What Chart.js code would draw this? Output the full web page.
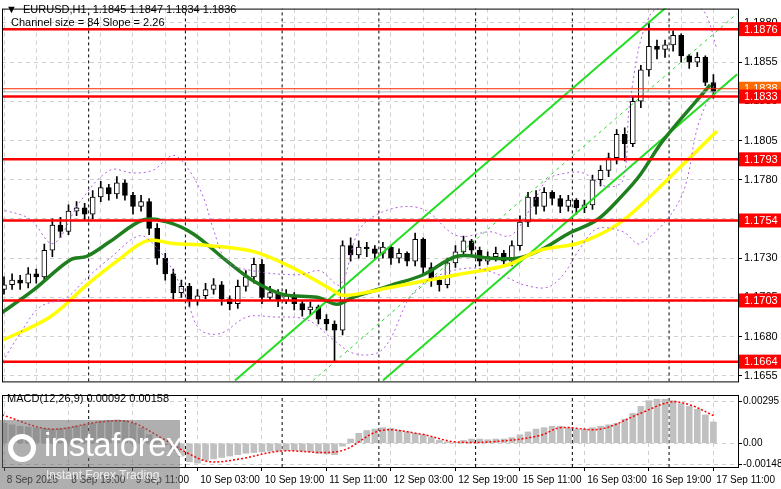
<!DOCTYPE html>
<html><head><meta charset="utf-8">
<script src="https://cdn.jsdelivr.net/npm/chart.js@4"></script>
<style>
html,body{margin:0;padding:0;background:#fff;width:781px;height:489px;overflow:hidden;font-family:"Liberation Sans",sans-serif}
#p{position:absolute;left:0;top:0;width:781px;height:390px}
#m{position:absolute;left:0;top:388px;width:781px;height:101px}
canvas{display:block}
#wm{position:absolute;left:0;top:420px;width:180px;height:69px;background:rgba(110,110,110,0.55);color:#fff}
#wm .a{position:absolute;left:44px;top:6px;font-size:33px;font-family:"Liberation Sans",sans-serif;letter-spacing:-0.5px}
#wm .b{position:absolute;left:46px;top:48px;font-size:12px;color:#eee}
#wm .g{position:absolute;left:8px;top:14px;width:28px;height:28px;border:5px solid #fff;border-radius:50%;box-sizing:border-box}
</style></head><body>
<div id="p"><canvas id="cp" width="781" height="390" style="width:781px;height:390px"></canvas></div>
<div id="m"><canvas id="cm" width="781" height="101" style="width:781px;height:101px"></canvas></div>
<div id="wm"><div class="g"></div><div class="a">instaforex</div><div class="b">Instant Forex Trading</div></div>
<script>
// ---- data (hour index from 8 Sep 03:00, 2-hour candles) ----
const hours = [];
for (let h = 0; h <= 176; h += 2) hours.push(h);
const closes = [1.1713,1.1716,1.1714,1.1720,1.1718,1.1735,1.1751,1.1747,1.1760,1.1762,1.1758,1.1769,1.1775,1.1771,1.1778,1.1770,1.1763,1.1766,1.1749,1.1730,1.1720,1.1708,1.1712,1.1703,1.1706,1.1710,1.1713,1.1704,1.1701,1.1712,1.1718,1.1726,1.1705,1.1708,1.1703,1.1706,1.1701,1.1697,1.1699,1.1691,1.1688,1.1684,1.1738,1.1732,1.1737,1.1736,1.1733,1.1737,1.1730,1.1733,1.1728,1.1742,1.1724,1.1716,1.1713,1.1727,1.1734,1.1741,1.1735,1.1728,1.1731,1.1733,1.1728,1.1738,1.1753,1.1769,1.1763,1.1772,1.1768,1.1763,1.1767,1.1762,1.1764,1.1780,1.1786,1.1794,1.1809,1.1803,1.1830,1.1850,1.1865,1.1863,1.1866,1.1872,1.1859,1.1855,1.1858,1.1842,1.1836];
const firstOpen = 1.1710;
const highs = [1.1718,1.1720,1.1719,1.1724,1.1723,1.1739,1.1755,1.1756,1.1764,1.1766,1.1765,1.1773,1.1779,1.1777,1.1782,1.1780,1.1772,1.1770,1.1768,1.1752,1.1733,1.1723,1.1716,1.1714,1.1710,1.1714,1.1717,1.1715,1.1706,1.1716,1.1722,1.1730,1.1729,1.1712,1.1710,1.1710,1.1708,1.1703,1.1702,1.1700,1.1694,1.1690,1.1741,1.1743,1.1741,1.1740,1.1738,1.1740,1.1738,1.1736,1.1734,1.1746,1.1743,1.1727,1.1718,1.1730,1.1738,1.1744,1.1742,1.1737,1.1734,1.1737,1.1735,1.1741,1.1757,1.1772,1.1773,1.1775,1.1773,1.1770,1.1770,1.1768,1.1767,1.1783,1.1789,1.1797,1.1812,1.1813,1.1833,1.1853,1.1880,1.1869,1.1869,1.1875,1.1873,1.1860,1.1861,1.1859,1.1847];
const lows = [1.1707,1.1710,1.1710,1.1711,1.1714,1.1716,1.1731,1.1743,1.1745,1.1757,1.1754,1.1755,1.1766,1.1767,1.1768,1.1767,1.1758,1.1760,1.1745,1.1726,1.1716,1.1704,1.1705,1.1699,1.1700,1.1704,1.1707,1.1700,1.1697,1.1698,1.1709,1.1714,1.1701,1.1703,1.1699,1.1701,1.1697,1.1693,1.1694,1.1688,1.1684,1.1664,1.1681,1.1728,1.1730,1.1731,1.1729,1.1730,1.1726,1.1727,1.1725,1.1725,1.1720,1.1712,1.1709,1.1711,1.1724,1.1731,1.1732,1.1725,1.1726,1.1728,1.1725,1.1725,1.1735,1.1750,1.1758,1.1760,1.1764,1.1759,1.1760,1.1758,1.1759,1.1761,1.1776,1.1782,1.1790,1.1792,1.1801,1.1826,1.1846,1.1857,1.1858,1.1862,1.1855,1.1851,1.1852,1.1840,1.1832];
const greenMA = [[-1,1.16944],[7.2,1.17094],[16.4,1.17288],[20.6,1.17312],[26.3,1.17406],[34.5,1.17543],[40.4,1.17531],[46.9,1.17456],[55.3,1.17281],[61.8,1.17156],[69.2,1.17069],[77.7,1.1705],[82.6,1.17006],[86.6,1.1705],[95.8,1.17125],[104,1.17194],[112.4,1.17312],[120.6,1.173],[127.3,1.173],[133,1.1735],[140.4,1.17462],[147.1,1.17543],[153.6,1.17705],[157.8,1.1783],[163.5,1.18049],[175.2,1.18404]];
const yellowMA = [[-1,1.16769],[11.4,1.16925],[20.6,1.17131],[28,1.17281],[35.5,1.17412],[41.9,1.17393],[50.4,1.17381],[61.8,1.17343],[71.7,1.17237],[81.6,1.17094],[84.1,1.17063],[90.1,1.17082],[95.8,1.17113],[112.4,1.17194],[124.8,1.17256],[133,1.1735],[142.2,1.17393],[149.6,1.17475],[154.6,1.17562],[159.5,1.17674],[176.9,1.18111]];
const envUpper = [[-1,1.17612],[6.4,1.1755],[12.2,1.17393],[18.9,1.17662],[26.3,1.17861],[32,1.17843],[37,1.17861],[41.9,1.17955],[45.4,1.1788],[49.4,1.17693],[51.9,1.17487],[55.3,1.17281],[61.8,1.17219],[73.4,1.17194],[78.4,1.17219],[83.4,1.17131],[88.3,1.17487],[95.8,1.17612],[104,1.17612],[112.4,1.17443],[120.6,1.17468],[125.6,1.17443],[130.5,1.17612],[134.7,1.17799],[139.7,1.17843],[143.7,1.17843],[149.6,1.17755],[153.6,1.17799],[155.3,1.18298],[160.3,1.1885],[167.7,1.1892],[172.2,1.18904],[174.4,1.18841],[176.9,1.18629]];
const envLower = [[-1,1.16613],[4,1.16819],[8.9,1.16988],[15.6,1.1705],[20.6,1.17175],[26.3,1.173],[33.7,1.17443],[38,1.17362],[41.9,1.17219],[45.4,1.17032],[48.6,1.16844],[53.6,1.16819],[60.3,1.16925],[66.7,1.16925],[75.2,1.16907],[81.6,1.16782],[86.6,1.16694],[92.5,1.16694],[95.8,1.16782],[100.7,1.1705],[106.4,1.17175],[116.4,1.17237],[124.8,1.17175],[128.8,1.17131],[134.7,1.17113],[138.7,1.17194],[142.9,1.17362],[147.1,1.17487],[153.6,1.17468],[157.8,1.17393],[167.7,1.17674],[172,1.1813],[174.4,1.18298],[176.9,1.18442]];
const chanUpper = [[57.3,1.1652],[164.5,1.18904]];
const chanMid = [[76.7,1.1652],[181.9,1.1886]];
const chanLower = [[94.0,1.1652],[181.9,1.18473]];
const levels = [1.1876,1.1833,1.1793,1.1754,1.1703,1.1664];
const levelThin = 1.1838, lastPrice = 1.1836;
const daySeps = [21,45,69,93,117,141,165];
const priceTicks = [1.1655,1.1680,1.1705,1.1730,1.1755,1.1780,1.1805,1.1830,1.1855,1.1880];
const timeTicks = [0,16,32,48,64,80,96,112,128,144,160,176];
const timeLabels = ["8 Sep 2025","8 Sep 19:00","9 Sep 11:00","10 Sep 03:00","10 Sep 19:00","11 Sep 11:00","12 Sep 03:00","12 Sep 19:00","15 Sep 11:00","16 Sep 03:00","16 Sep 19:00","17 Sep 11:00"];
const macdHist = [.00143,.0013,.0012,.00115,.0011,.00105,.001,.00105,.0011,.0012,.0013,.0014,.00155,.0016,.00165,.0016,.0014,.0011,.0006,.0002,-.0001,-.0005,-.0009,-.0013,-.0014,-.0012,-.0011,-.001,-.0009,-.0008,-.0007,-.00065,-.0006,-.00055,-.00055,-.0005,-.0005,-.00055,-.0006,-.0007,-.00075,-.0008,-.0002,.0003,.0007,.0009,.001,.0011,.00105,.0009,.0008,.0007,.0006,.0004,.0002,.0001,.00005,.0002,.0003,.0003,.00025,.0003,.0003,.0004,.0006,.0008,.001,.0011,.0012,.0012,.0011,.001,.001,.0011,.0012,.0013,.0014,.0017,.0021,.0026,.003,.0031,.0031,.003,.0028,.0026,.0024,.002,.0015];
const macdSignal = [[-0.5,.002],[11.4,.001],[23.8,.0015],[31.3,.0015],[38.7,.00044],[46.1,-.00077],[51.1,-.0013],[58.6,-.0011],[68.5,-.00055],[83.4,-.00055],[93.3,.00088],[103.2,.00066],[111.9,.0001],[123.1,.00015],[133,.00055],[138,.0011],[148,.001],[157.8,.0021],[165.3,.0029],[170.2,.0027],[176.4,.0019]];
const macdTicks = [0.00295,0,-0.00148];

const X_MIN = -0.5, X_MAX = 182.1, Y_MIN = 1.16514, Y_MAX = 1.18891;
const F = '"Liberation Sans", sans-serif';
const pts = a => a.map(p => ({x:p[0], y:p[1]}));
const opens = closes.map((c,i) => i === 0 ? firstOpen : closes[i-1]);
const line = (data, color, w, dash, extra) => Object.assign({type:'line', data:pts(data), borderColor:color, borderWidth:w, borderDash:dash||[], pointRadius:0, tension:0.35, order:0}, extra||{});

const datasets = [];
daySeps.forEach(h => datasets.push(line([[h,Y_MIN],[h,Y_MAX]], '#000', 1, [3,3], {tension:0, order:5})));
datasets.push(line(envUpper, '#b060e0', 1, [2,3]));
datasets.push(line(envLower, '#b060e0', 1, [2,3]));
datasets.push(line([[X_MIN,lastPrice],[X_MAX,lastPrice]], '#b0b0b0', 1, [], {tension:0}));
datasets.push(line([[X_MIN,levelThin],[X_MAX,levelThin]], '#ff2a00', 1, [], {tension:0}));
levels.forEach(v => datasets.push(line([[X_MIN,v],[X_MAX,v]], '#ff0000', 2.5, [], {tension:0})));
datasets.push({type:'bar', data:hours.map((h,i)=>({x:h, y:[lows[i],highs[i]]})), backgroundColor:'#000', barThickness:1, grouped:false, order:3});
datasets.push({type:'bar', data:hours.map((h,i)=>({x:h, y:[opens[i],closes[i]===opens[i]?closes[i]+0.00002:closes[i]]})),
  backgroundColor:hours.map((h,i)=>closes[i]>=opens[i]?'#fff':'#000'), borderColor:'#000', borderWidth:1, borderSkipped:false, barThickness:5, grouped:false, order:2});
datasets.push(line(yellowMA, '#ffff00', 3.5, []));
datasets.push(line(greenMA, '#1f7f1f', 3.5, []));
datasets.push(line(chanUpper, '#22dd22', 2, [], {tension:0}));
datasets.push(line(chanLower, '#22dd22', 2, [], {tension:0}));
datasets.push(line(chanMid, '#22dd22', 1, [3,4], {tension:0}));

const frame = {id:'frame', afterDraw(c){const a=c.chartArea,x=c.ctx;x.save();x.strokeStyle='#000';x.lineWidth=1;x.strokeRect(a.left+0.5,a.top+0.5,a.right-a.left,a.bottom-a.top);x.restore();}};
const labelsP = {id:'labelsP', afterDraw(c){
  const x=c.ctx,a=c.chartArea,y=c.scales.y;x.save();
  x.font='11px '+F;x.fillStyle='#000';x.textBaseline='middle';
  x.fillText('\u25BC  EURUSD,H1  1.1845 1.1847 1.1834 1.1836',6,10);
  x.fillText('Channel size = 84 Slope = 2.26',11,23);
  const box=(v,bg)=>{const py=y.getPixelForValue(v);x.fillStyle=bg;x.fillRect(a.right+1,py-7,43,14);x.fillStyle='#fff';x.font='11px '+F;x.fillText(v.toFixed(4),a.right+6,py+0.5);};
  box(levelThin,'#ff6a00');
  levels.forEach(v=>box(v,'#ff0000'));
  x.restore();}};
const labelsM = {id:'labelsM', afterDraw(c){const x=c.ctx;x.save();x.font='11px '+F;x.fillStyle='#000';x.textBaseline='middle';x.fillText('MACD(12,26,9) 0.00092 0.00158',7,11);x.restore();}};

const gridCol = '#cfcfcf';
const brd = {display:true, dash:[4,4], color:'rgba(0,0,0,0)'};
new Chart(document.getElementById('cp'), {
  type:'bar', data:{datasets},
  options:{responsive:false, animation:false, maintainAspectRatio:false, devicePixelRatio:1,
    layout:{padding:{left:2,top:5,bottom:4,right:0}},
    plugins:{legend:{display:false},tooltip:{enabled:false}},
    scales:{
      x:{type:'linear',min:X_MIN,max:X_MAX,offset:false,display:true,
        afterBuildTicks:s=>{const t=[];for(let h=0;h<=X_MAX;h+=8)t.push({value:h});s.ticks=t;},
        afterFit:s=>{s.height=0;},
        ticks:{display:false},
        grid:{color:gridCol,lineWidth:1,drawTicks:false,offset:false},border:brd},
      y:{position:'right',min:Y_MIN,max:Y_MAX,
        afterBuildTicks:s=>{s.ticks=priceTicks.map(v=>({value:v}));},
        afterFit:s=>{s.width=43;},
        ticks:{font:{family:F,size:11},color:'#000',padding:2,callback:v=>v.toFixed(4)},
        grid:{color:gridCol,tickColor:'#000',tickLength:4},border:brd}
    }},
  plugins:[frame,labelsP]
});

const mDatasets = [
  ...daySeps.map(h => line([[h,-0.00167],[h,0.0034]], '#000', 1, [3,3], {tension:0, order:5})),
  {type:'bar', data:hours.map((h,i)=>({x:h,y:macdHist[i]})), backgroundColor:'#c0c0c0', barThickness:6, grouped:false, order:2},
  line(macdSignal, '#ff0000', 1.5, [2,2])
];
new Chart(document.getElementById('cm'), {
  type:'bar', data:{datasets:mDatasets},
  options:{responsive:false, animation:false, maintainAspectRatio:false, devicePixelRatio:1,
    layout:{padding:{left:2,top:3,bottom:0,right:0}},
    plugins:{legend:{display:false},tooltip:{enabled:false}},
    scales:{
      x:{type:'linear',min:X_MIN,max:X_MAX,offset:false,
        afterBuildTicks:s=>{s.ticks=timeTicks.map(v=>({value:v}));},
        afterFit:s=>{s.height=22;},
        ticks:{font:{family:F,size:10},color:'#000',maxRotation:0,autoSkip:false,align:'start',padding:3,callback:(v,i)=>' '+timeLabels[i]},
        grid:{color:gridCol,tickColor:'#000',tickLength:4,offset:false},border:brd},
      y:{position:'right',min:-0.00167,max:0.0034,
        afterBuildTicks:s=>{s.ticks=macdTicks.map(v=>({value:v}));},
        afterFit:s=>{s.width=43;},
        ticks:{font:{family:F,size:10},color:'#000',padding:1,callback:v=>v===0?'0.00':String(v)},
        grid:{color:gridCol,tickColor:'#000',tickLength:4},border:brd}
    }},
  plugins:[frame,labelsM]
});
</script></body></html>
